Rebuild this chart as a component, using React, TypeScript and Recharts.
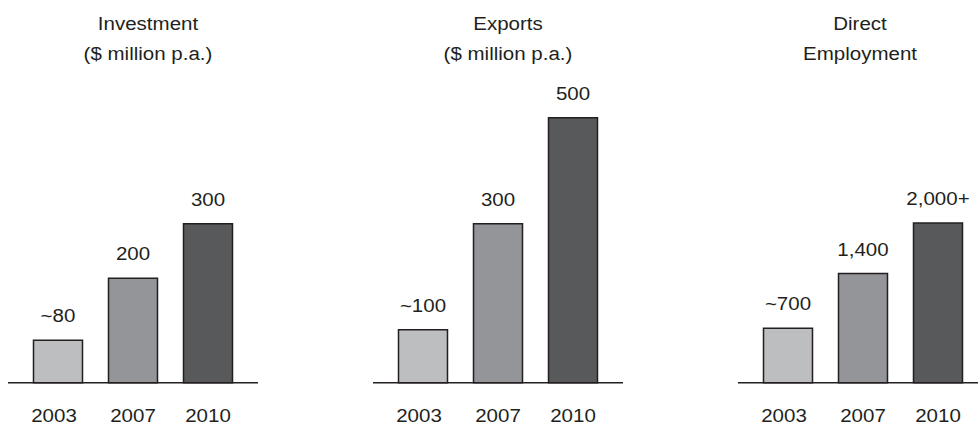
import { Bar, BarChart, Cell, LabelList, XAxis, YAxis } from "recharts";

// values
const years = ["2003", "2007", "2010"];

const investment = [80, 197, 300];
const investmentLabels = ["~80", "200", "300"];

const exportValues = [100, 300, 500];
const exportLabels = ["~100", "300", "500"];

const employment = [700, 1400, 2050];
const employmentLabels = ["~700", "1,400", "2,000+"];

const barColors = ["#bcbec0", "#939598", "#58595b"];

const INK = "#231f20";
const FONT = '"Liberation Sans", Arial, Helvetica, sans-serif';

const panels = [
  { title: ["Investment", "($ million p.a.)"], values: investment, labels: investmentLabels, max: 600, left: 8, titleX: 148 },
  { title: ["Exports", "($ million p.a.)"], values: exportValues, labels: exportLabels, max: 600, left: 373, titleX: 508 },
  { title: ["Direct", "Employment"], values: employment, labels: employmentLabels, max: 4080, left: 738, titleX: 860 },
];

// the source type is a bit wide, so stretch it horizontally
function Stretched({ x, y, children }: { x: number; y: number; children: React.ReactNode }) {
  return (
    <text
      transform={`translate(${x} ${y}) scale(1.08 1)`}
      textAnchor="middle"
      fontFamily={FONT}
      fontSize={19}
      fill={INK}
    >
      {children}
    </text>
  );
}

const YearTick = (props: any) => {
  const { x, y, payload, index } = props;
  const dx = index === 0 ? -4 : 0;
  return <Stretched x={Number(x) + dx} y={Number(y) + 39.3}>{payload.value}</Stretched>;
};

const ValueLabel = (props: any) => {
  const { x, y, width, value } = props;
  return <Stretched x={Number(x) + Number(width) / 2} y={Number(y) - 18}>{value}</Stretched>;
};

function Panel({ values, labels, max }: { values: number[]; labels: string[]; max: number }) {
  const data = years.map((year, i) => ({ year, value: values[i], label: labels[i] }));
  return (
    <BarChart width={250} height={426} data={data} margin={{ top: 64.7, right: 0, bottom: 0, left: 0 }}>
      <XAxis
        dataKey="year"
        height={43.3}
        padding={{ left: 12.5, right: 12.5 }}
        axisLine={{ stroke: INK, strokeWidth: 1.5 }}
        tickLine={false}
        tickSize={0}
        tickMargin={0}
        tick={YearTick}
        interval={0}
      />
      <YAxis hide domain={[0, max]} />
      <Bar dataKey="value" barSize={49} stroke={INK} strokeWidth={1.5} isAnimationActive={false}>
        {data.map((d, i) => (
          <Cell key={d.year} fill={barColors[i]} />
        ))}
        <LabelList dataKey="label" content={ValueLabel} />
      </Bar>
    </BarChart>
  );
}

export default function App() {
  return (
    <div
      style={{
        position: "absolute",
        left: 0,
        top: 0,
        width: 978,
        height: 426,
        overflow: "hidden",
        background: "#fff",
      }}
    >
      {panels.map((p) => (
        <div key={p.title[0]} style={{ position: "absolute", left: p.left, top: 0, width: 250, height: 426 }}>
          <Panel values={p.values} labels={p.labels} max={p.max} />
        </div>
      ))}
      <svg width={978} height={426} style={{ position: "absolute", left: 0, top: 0, pointerEvents: "none" }}>
        {panels.map((p) => (
          <g key={p.title[0]}>
            <Stretched x={p.titleX} y={30}>{p.title[0]}</Stretched>
            <Stretched x={p.titleX} y={59.5}>{p.title[1]}</Stretched>
          </g>
        ))}
      </svg>
    </div>
  );
}
